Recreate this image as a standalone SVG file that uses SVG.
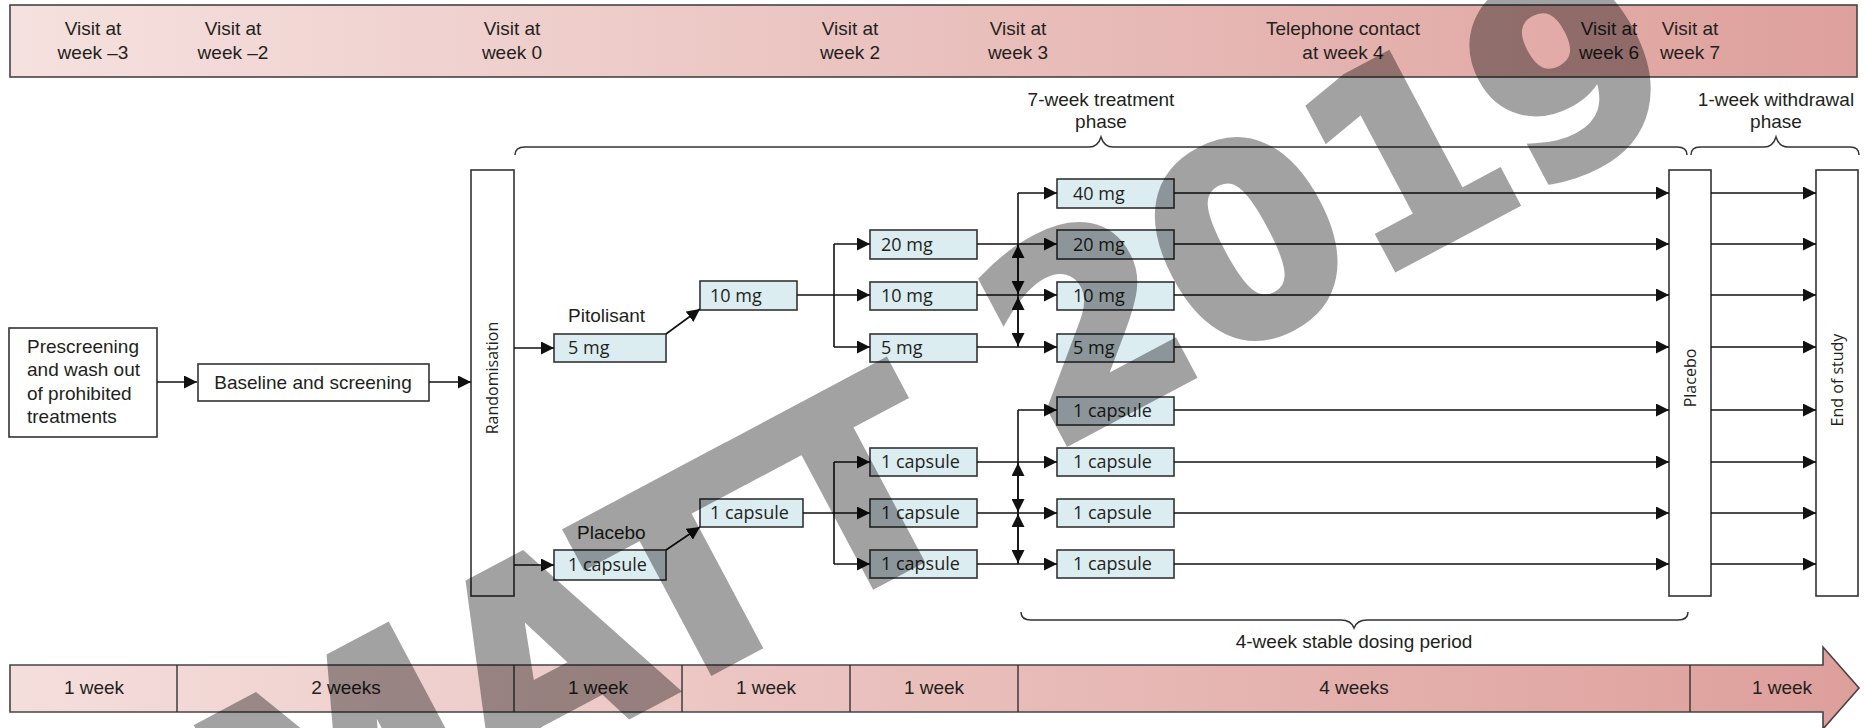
<svg xmlns="http://www.w3.org/2000/svg" width="1864" height="728" viewBox="0 0 1864 728">
<defs>
<linearGradient id="gTop" x1="0" y1="0" x2="1" y2="0">
<stop offset="0" stop-color="#f5e1df"/>
<stop offset="1" stop-color="#dea09c"/>
</linearGradient>
<linearGradient id="gBot" x1="0" y1="0" x2="1" y2="0">
<stop offset="0" stop-color="#f4dedc"/>
<stop offset="1" stop-color="#de9f9b"/>
</linearGradient>
<marker id="ah" viewBox="0 0 10 10" refX="10" refY="5" markerWidth="13" markerHeight="13" markerUnits="userSpaceOnUse" orient="auto">
<path d="M0,0 L10,5 L0,10 z" fill="#111"/>
</marker>
<style>
text{font-family:"Liberation Sans",Arial,sans-serif;font-size:19px;fill:#231f20}
.c{text-anchor:middle}
.bx{fill:#fff;stroke:#333;stroke-width:1.6}
.ds{fill:#dcedf2;stroke:#333;stroke-width:1.6}
.bar{stroke:#444;stroke-width:1.6}
.ln{fill:none;stroke:#111;stroke-width:1.6}
.ar{fill:none;stroke:#111;stroke-width:1.6;marker-end:url(#ah)}
.br{fill:none;stroke:#333;stroke-width:1.5}
.dt{font-family:"Open Sans","Liberation Sans",sans-serif;font-size:18px}
.rt{font-family:"Open Sans","Liberation Sans",sans-serif;font-size:16px;text-anchor:middle;dominant-baseline:central}
.dv{stroke:#333;stroke-width:1.4}
.wm{font-family:"DejaVu Sans",sans-serif;font-size:260px;font-weight:bold;fill:#000;stroke:#000;stroke-width:10;stroke-linejoin:miter}
</style>
</defs>
<rect width="1864" height="728" fill="#fff"/>

<g id="top-timeline">
<rect class="bar" x="10" y="5" width="1847" height="72" fill="url(#gTop)"/>
<text class="c" x="93" y="35">Visit at</text><text class="c" x="93" y="59">week –3</text>
<text class="c" x="233" y="35">Visit at</text><text class="c" x="233" y="59">week –2</text>
<text class="c" x="512" y="35">Visit at</text><text class="c" x="512" y="59">week 0</text>
<text class="c" x="850" y="35">Visit at</text><text class="c" x="850" y="59">week 2</text>
<text class="c" x="1018" y="35">Visit at</text><text class="c" x="1018" y="59">week 3</text>
<text class="c" x="1343" y="35">Telephone contact</text><text class="c" x="1343" y="59">at week 4</text>
<text class="c" x="1609" y="35">Visit at</text><text class="c" x="1609" y="59">week 6</text>
<text class="c" x="1690" y="35">Visit at</text><text class="c" x="1690" y="59">week 7</text>
</g>

<g id="phase-braces">
<text class="c" x="1101" y="106">7-week treatment</text>
<text class="c" x="1101" y="128">phase</text>
<path class="br" d="M515,155 Q515,147 525,147 L1089,147 Q1098,147 1101,137 Q1104,147 1113,147 L1677,147 Q1687,147 1687,155"/>
<text class="c" x="1776" y="106">1-week withdrawal</text>
<text class="c" x="1776" y="128">phase</text>
<path class="br" d="M1691,155 Q1691,147 1700,147 L1764,147 Q1773,147 1776,137 Q1779,147 1788,147 L1850,147 Q1859,147 1859,155"/>
<path class="br" d="M1021,612 Q1021,620 1031,620 L1341,620 Q1351,620 1354,628 Q1357,620 1367,620 L1678,620 Q1688,620 1688,612"/>
<text class="c" x="1354" y="648">4-week stable dosing period</text>
</g>

<g id="prescreening">
<rect class="bx" x="9" y="328" width="148" height="109"/>
<text x="27" y="353">Prescreening</text>
<text x="27" y="376">and wash out</text>
<text x="27" y="400">of prohibited</text>
<text x="27" y="423">treatments</text>
</g>
<g id="baseline">
<rect class="bx" x="198" y="364" width="231" height="37"/>
<text class="c" x="313" y="389">Baseline and screening</text>
</g>
<g id="randomisation">
<rect class="bx" x="471" y="170" width="43" height="426"/>
<text class="rt" transform="translate(492,378) rotate(-90)">Randomisation</text>
</g>

<g id="pitolisant-5mg">
<text x="568" y="322">Pitolisant</text>
<rect class="ds" x="554" y="334" width="112" height="28"/>
<text class="dt" x="568" y="354">5 mg</text>
</g>
<g id="pitolisant-10mg">
<rect class="ds" x="700" y="281" width="97" height="29"/>
<text class="dt" x="710" y="302">10 mg</text>
</g>
<g id="titration-20mg">
<rect class="ds" x="870" y="230" width="107" height="29"/>
<text class="dt" x="881" y="251">20 mg</text>
</g>
<g id="titration-10mg">
<rect class="ds" x="870" y="282" width="107" height="28"/>
<text class="dt" x="881" y="302">10 mg</text>
</g>
<g id="titration-5mg">
<rect class="ds" x="870" y="334" width="107" height="28"/>
<text class="dt" x="881" y="354">5 mg</text>
</g>
<g id="stable-40mg">
<rect class="ds" x="1057" y="179" width="117" height="29"/>
<text class="dt" x="1073" y="200">40 mg</text>
</g>
<g id="stable-20mg">
<rect class="ds" x="1057" y="230" width="117" height="29"/>
<text class="dt" x="1073" y="251">20 mg</text>
</g>
<g id="stable-10mg">
<rect class="ds" x="1057" y="282" width="117" height="28"/>
<text class="dt" x="1073" y="302">10 mg</text>
</g>
<g id="stable-5mg">
<rect class="ds" x="1057" y="334" width="117" height="28"/>
<text class="dt" x="1073" y="354">5 mg</text>
</g>

<g id="placebo-start">
<text x="577" y="539">Placebo</text>
<rect class="ds" x="554" y="550" width="112" height="30"/>
<text class="dt" x="568" y="571">1 capsule</text>
</g>
<g id="placebo-step2">
<rect class="ds" x="700" y="499" width="103" height="28"/>
<text class="dt" x="710" y="519">1 capsule</text>
</g>
<g id="placebo-titration-1">
<rect class="ds" x="870" y="448" width="107" height="28"/>
<text class="dt" x="881" y="468">1 capsule</text>
</g>
<g id="placebo-titration-2">
<rect class="ds" x="870" y="499" width="107" height="28"/>
<text class="dt" x="881" y="519">1 capsule</text>
</g>
<g id="placebo-titration-3">
<rect class="ds" x="870" y="550" width="107" height="28"/>
<text class="dt" x="881" y="570">1 capsule</text>
</g>
<g id="placebo-stable-1">
<rect class="ds" x="1057" y="397" width="117" height="28"/>
<text class="dt" x="1073" y="417">1 capsule</text>
</g>
<g id="placebo-stable-2">
<rect class="ds" x="1057" y="448" width="117" height="28"/>
<text class="dt" x="1073" y="468">1 capsule</text>
</g>
<g id="placebo-stable-3">
<rect class="ds" x="1057" y="499" width="117" height="28"/>
<text class="dt" x="1073" y="519">1 capsule</text>
</g>
<g id="placebo-stable-4">
<rect class="ds" x="1057" y="550" width="117" height="28"/>
<text class="dt" x="1073" y="570">1 capsule</text>
</g>

<g id="withdrawal-placebo">
<rect class="bx" x="1669" y="170" width="42" height="426"/>
<text class="rt" transform="translate(1690,378) rotate(-90)">Placebo</text>
</g>
<g id="end-of-study">
<rect class="bx" x="1816" y="170" width="42" height="426"/>
<text class="rt" transform="translate(1837,380) rotate(-90)">End of study</text>
</g>

<g id="connectors">
<path class="ar" d="M157,382 H197"/>
<path class="ar" d="M429,382 H471"/>
<path class="ar" d="M514,348 H554"/>
<path class="ar" d="M514,565 H554"/>
<path class="ar" d="M666,334 L700,309"/>
<path class="ar" d="M666,550 L700,527"/>
<path class="ar" d="M797,295 H870"/>
<path class="ar" d="M834,244 H870"/>
<path class="ar" d="M834,347 H870"/>
<path class="ln" d="M834,244 V347"/>
<path class="ar" d="M803,513 H870"/>
<path class="ar" d="M834,462 H870"/>
<path class="ar" d="M834,564 H870"/>
<path class="ln" d="M834,462 V564"/>
<path class="ar" d="M977,244 H1057"/>
<path class="ar" d="M977,295 H1057"/>
<path class="ar" d="M977,347 H1057"/>
<path class="ar" d="M1018,193 H1057"/>
<path class="ln" d="M1018,193 V347"/>
<path class="ar" d="M1018,270 V245"/>
<path class="ar" d="M1018,270 V294"/>
<path class="ar" d="M1018,322 V297"/>
<path class="ar" d="M1018,322 V346"/>
<path class="ar" d="M977,462 H1057"/>
<path class="ar" d="M977,513 H1057"/>
<path class="ar" d="M977,564 H1057"/>
<path class="ar" d="M1018,410 H1057"/>
<path class="ln" d="M1018,410 V564"/>
<path class="ar" d="M1018,488 V463"/>
<path class="ar" d="M1018,488 V512"/>
<path class="ar" d="M1018,539 V514"/>
<path class="ar" d="M1018,539 V563"/>
<path class="ar" d="M1174,193 H1669"/>
<path class="ar" d="M1174,244 H1669"/>
<path class="ar" d="M1174,295 H1669"/>
<path class="ar" d="M1174,347 H1669"/>
<path class="ar" d="M1174,410 H1669"/>
<path class="ar" d="M1174,462 H1669"/>
<path class="ar" d="M1174,513 H1669"/>
<path class="ar" d="M1174,564 H1669"/>
<path class="ar" d="M1711,193 H1816"/>
<path class="ar" d="M1711,244 H1816"/>
<path class="ar" d="M1711,295 H1816"/>
<path class="ar" d="M1711,347 H1816"/>
<path class="ar" d="M1711,410 H1816"/>
<path class="ar" d="M1711,462 H1816"/>
<path class="ar" d="M1711,513 H1816"/>
<path class="ar" d="M1711,564 H1816"/>
</g>

<g id="bottom-timeline">
<path class="bar" d="M10,665 H1823 V647 L1859,688 L1823,729 V712 H10 Z" fill="url(#gBot)"/>
<path class="dv" d="M177,665 V712 M514,665 V712 M682,665 V712 M850,665 V712 M1018,665 V712 M1690,665 V712"/>
<text class="c" x="94" y="694">1 week</text>
<text class="c" x="346" y="694">2 weeks</text>
<text class="c" x="598" y="694">1 week</text>
<text class="c" x="766" y="694">1 week</text>
<text class="c" x="934" y="694">1 week</text>
<text class="c" x="1354" y="694">4 weeks</text>
<text class="c" x="1782" y="694">1 week</text>
</g>

<g id="watermark" opacity="0.36">
<text class="wm" transform="translate(1051,450) rotate(-28)"><tspan x="-905" y="35">MATT</tspan><tspan x="0" y="0">2019</tspan></text>
</g>
</svg>
